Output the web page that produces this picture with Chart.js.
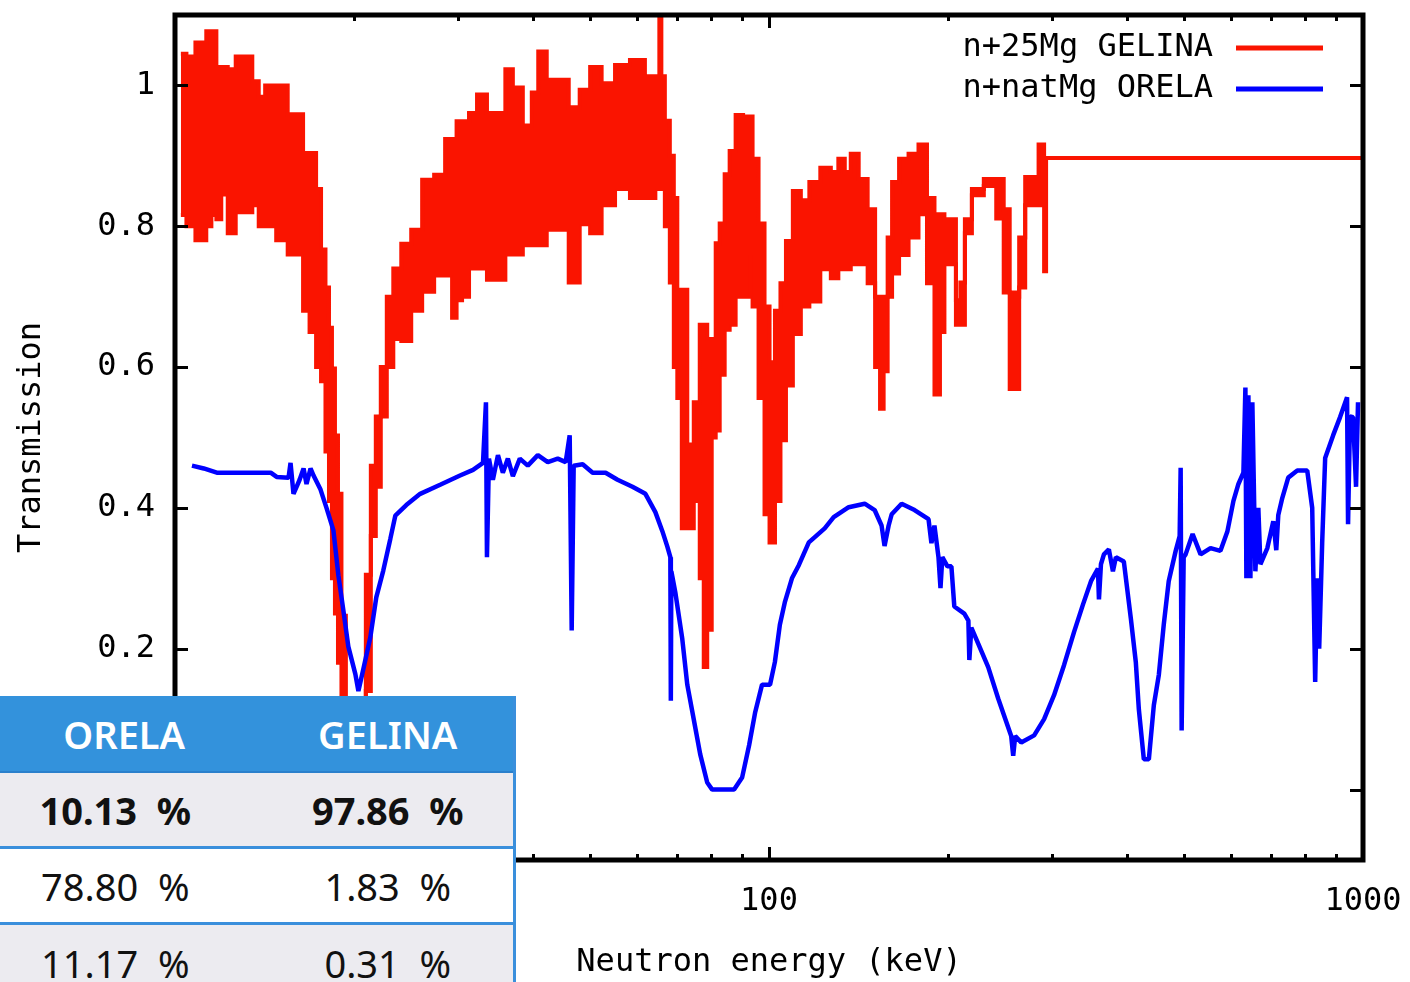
<!DOCTYPE html>
<html>
<head>
<meta charset="utf-8">
<title>Mg transmission</title>
<script src="https://cdn.jsdelivr.net/npm/chart.js@4.4.1/dist/chart.umd.min.js"></script>
<style>
    html, body { margin: 0; padding: 0; background: #fff; overflow: hidden; }
    #wrap { position: relative; width: 1410px; height: 982px; }
    #chart { position: absolute; left: 0; top: 0; }
    #shares {
        position: absolute; left: 0; top: 696px; width: 516px;
        box-sizing: border-box; border-right: 3px solid #3a8fdc;
        font-family: "Noto Sans", "Open Sans", sans-serif; color: #111;
    }
    #shares .tr { display: flex; align-items: center; box-sizing: border-box; height: 76px; white-space: pre; font-size: 38px; background: #fff; }
    #shares .th { height: 77px; background: #3392dc; color: #fff; border-bottom: 2px solid #2b80cc; font-weight: 600; }
    #shares .th .c1 { width: 250px; }
    #shares .th .c2 { margin-left: 14px; }
    #shares .odd { background: #ecebf0; }
    #shares .line { border-bottom: 3px solid #3a8fdc; }
    #shares .bold { font-weight: 700; }
    #shares .c1 { width: 232px; text-align: center; }
    #shares .c2 { width: 252px; margin-left: 32px; text-align: center; }
</style>
</head>
<body>
<div id="wrap">
    <canvas id="chart" width="1410" height="982"></canvas>
    <div id="shares"></div>
</div>
<script>
// axis ticks
const xTicks = [10, 20, 30, 40, 50, 60, 70, 80, 90, 100, 200, 300, 400, 500, 600, 700, 800, 900, 1000];
const xLabels = [10, 100, 1000];
const yTicks = [0, 0.2, 0.4, 0.6, 0.8, 1];

// n+25Mg GELINA : upper and lower edge of the dense trace
const gelinaE = [10.23, 10.68, 10.97, 11.18, 11.40, 11.63, 11.85, 12.08, 12.46, 12.85, 13.31, 13.68, 13.99, 14.38, 15.24, 15.72, 16.27, 16.59, 17.11, 17.45,
    17.78, 18.06, 18.27, 18.48, 18.70, 18.92, 19.21, 19.58, 20.12, 20.75, 21.16, 21.57, 21.99, 22.42, 23.04, 23.58, 24.51, 25.47, 26.68, 27.95,
    29.05, 29.50, 30.08, 30.78, 31.75, 32.75, 34.29, 35.64, 36.34, 37.77, 39.26, 40.49, 41.28, 43.24, 44.95, 47.09, 48.94, 51.07, 53.49, 56.67,
    60.05, 63.63, 65.12, 65.63, 66.14, 67.43, 68.74, 69.55, 70.63, 72.01, 73.70, 75.72, 77.20, 78.10, 79.32, 80.86, 81.81, 83.40, 85.03, 86.69,
    89.06, 91.86, 92.93, 94.74, 97.34, 99.23, 101.2, 103.5, 105.6, 108.0, 111.4, 114.9, 119.0, 125.1, 129.1, 132.6, 135.7, 138.9, 144.3, 148.9,
    152.9, 154.7, 157.2, 159.6, 162.7, 168.5, 175.1, 182.0, 187.0, 192.9, 195.1, 199.7, 204.4, 208.4, 211.6, 215.8, 223.4, 236.7, 246.0, 250.8,
    257.7, 261.7, 265.8, 274.2, 282.7, 286.0, 289.4, 291.6, 293.9, 1000];
const gelinaHi = [1.045, 1.041, 1.061, 1.061, 1.077, 1.077, 1.026, 1.026, 1.023, 1.041, 1.041, 1.006, 0.984, 1.0, 1.0, 0.959, 0.959, 0.904, 0.904, 0.853,
    0.767, 0.713, 0.656, 0.598, 0.503, 0.42, 0.247, 0.12, 0.05, 0.10, 0.305, 0.46, 0.53, 0.60, 0.70, 0.74, 0.775, 0.795, 0.866, 0.873,
    0.924, 0.924, 0.949, 0.949, 0.961, 0.987, 0.961, 0.961, 1.023, 0.997, 0.943, 0.99, 1.048, 1.008, 1.008, 0.969, 0.994, 1.026, 1.003, 1.029,
    1.036, 1.013, 1.013, 1.10, 1.013, 0.95, 0.90, 0.84, 0.71, 0.71, 0.49, 0.55, 0.66, 0.66, 0.64, 0.64, 0.776, 0.804, 0.874, 0.907,
    0.958, 0.956, 0.956, 0.896, 0.804, 0.686, 0.607, 0.68, 0.719, 0.779, 0.85, 0.837, 0.863, 0.883, 0.877, 0.896, 0.877, 0.903, 0.867, 0.824,
    0.70, 0.68, 0.70, 0.784, 0.863, 0.896, 0.903, 0.916, 0.84, 0.817, 0.817, 0.81, 0.81, 0.695, 0.72, 0.81, 0.853, 0.867, 0.867, 0.824,
    0.706, 0.70, 0.784, 0.87, 0.87, 0.916, 0.916, 0.897, 0.897, 0.897];
const gelinaLo = [0.816, 0.80, 0.78, 0.78, 0.80, 0.816, 0.81, 0.845, 0.79, 0.82, 0.82, 0.83, 0.80, 0.80, 0.78, 0.76, 0.76, 0.68, 0.65, 0.60,
    0.58, 0.48, 0.41, 0.30, 0.25, 0.18, 0.10, 0.03, 0.0, 0.03, 0.14, 0.36, 0.43, 0.53, 0.60, 0.64, 0.637, 0.68, 0.707, 0.73,
    0.73, 0.67, 0.695, 0.70, 0.74, 0.74, 0.724, 0.724, 0.76, 0.76, 0.773, 0.773, 0.773, 0.795, 0.795, 0.72, 0.803, 0.79, 0.83, 0.853,
    0.84, 0.84, 0.853, 0.853, 0.853, 0.80, 0.72, 0.60, 0.556, 0.371, 0.371, 0.41, 0.30, 0.174, 0.227, 0.50, 0.51, 0.589, 0.653, 0.66,
    0.70, 0.70, 0.759, 0.686, 0.556, 0.391, 0.351, 0.41, 0.496, 0.574, 0.647, 0.686, 0.693, 0.739, 0.726, 0.739, 0.739, 0.746, 0.746, 0.719,
    0.60, 0.541, 0.594, 0.70, 0.733, 0.759, 0.784, 0.817, 0.719, 0.561, 0.65, 0.746, 0.746, 0.66, 0.66, 0.79, 0.844, 0.857, 0.811, 0.706,
    0.569, 0.569, 0.713, 0.83, 0.83, 0.83, 0.83, 0.736, 0.897, 0.897];

// n+natMg ORELA
const orelaE = [10.68, 11.18, 11.76, 14.49, 14.83, 15.53, 15.65, 15.83, 16.02, 16.21, 16.46, 16.65, 16.91, 17.11, 17.58, 17.99, 18.48, 18.84, 19.21, 19.58,
    20.12, 20.36, 20.75, 21.32, 21.82, 22.42, 23.04, 23.49, 24.51, 25.87, 27.95, 30.19, 31.75, 33.00, 33.38, 33.51, 33.77, 34.29, 34.97, 35.64,
    36.34, 37.05, 38.06, 39.26, 40.81, 42.42, 44.09, 45.47, 46.18, 46.54, 46.90, 48.56, 50.48, 53.08, 55.59, 58.90, 61.93, 64.37, 66.14, 67.43,
    68.22, 68.35, 68.48, 69.55, 71.45, 72.85, 74.84, 76.60, 78.70, 80.23, 87.35, 90.10, 92.58, 94.74, 97.34, 100.4, 102.3, 104.3, 106.4, 109.3,
    112.3, 116.7, 124.1, 128.5, 136.2, 144.9, 150.6, 154.7, 156.5, 159.0, 160.9, 167.2, 175.8, 185.6, 187.7, 189.9, 192.9, 194.4, 195.8, 199.7,
    202.8, 205.1, 213.2, 216.6, 217.4, 219.1, 225.1, 233.9, 243.2, 255.7, 257.7, 259.7, 265.8, 279.5, 290.5, 301.9, 313.9, 326.3, 337.8, 348.4,
    357.9, 359.3, 362.1, 366.3, 373.4, 379.3, 383.7, 395.7, 406.6, 414.5, 419.4, 427.6, 436.0, 444.5, 453.2, 461.9, 470.9, 483.8, 491.3, 493.2,
    495.1, 499.0, 502.8, 516.6, 532.8, 553.7, 575.5, 591.3, 605.2, 617.0, 629.0, 633.9, 636.3, 641.3, 646.3, 651.2, 658.9, 666.5, 671.8, 690.2,
    706.3, 714.5, 720.1, 731.3, 748.4, 775.2, 805.6, 821.3, 830.8, 837.3, 843.8, 853.6, 863.6, 890.6, 915.0, 940.1, 943.7, 951.0, 962.1, 973.4,
    980.9];
const orelaT = [0.46, 0.456, 0.45, 0.45, 0.444, 0.443, 0.464, 0.42, 0.43, 0.44, 0.456, 0.434, 0.456, 0.446, 0.426, 0.40, 0.368, 0.304, 0.254, 0.203,
    0.164, 0.14, 0.171, 0.216, 0.273, 0.311, 0.356, 0.389, 0.404, 0.42, 0.433, 0.446, 0.454, 0.464, 0.55, 0.33, 0.47, 0.44, 0.475, 0.45,
    0.47, 0.445, 0.47, 0.46, 0.475, 0.465, 0.47, 0.465, 0.503, 0.226, 0.46, 0.462, 0.45, 0.45, 0.44, 0.43, 0.42, 0.394, 0.367, 0.345,
    0.33, 0.126, 0.31, 0.28, 0.214, 0.149, 0.096, 0.05, 0.01, 0.0, 0.0, 0.017, 0.063, 0.109, 0.149, 0.149, 0.181, 0.234, 0.267, 0.30,
    0.319, 0.351, 0.371, 0.387, 0.401, 0.406, 0.397, 0.375, 0.346, 0.375, 0.391, 0.406, 0.397, 0.384, 0.35, 0.375, 0.33, 0.286, 0.33, 0.317,
    0.317, 0.26, 0.25, 0.24, 0.184, 0.23, 0.207, 0.174, 0.129, 0.076, 0.048, 0.076, 0.067, 0.077, 0.10, 0.134, 0.177, 0.224, 0.263, 0.296,
    0.314, 0.27, 0.32, 0.334, 0.341, 0.31, 0.33, 0.324, 0.243, 0.181, 0.114, 0.043, 0.043, 0.12, 0.163, 0.234, 0.296, 0.339, 0.36, 0.457,
    0.084, 0.33, 0.334, 0.363, 0.334, 0.343, 0.339, 0.367, 0.41, 0.434, 0.45, 0.571, 0.30, 0.56, 0.30, 0.55, 0.31, 0.40, 0.32, 0.343,
    0.381, 0.34, 0.39, 0.414, 0.443, 0.453, 0.453, 0.40, 0.153, 0.30, 0.20, 0.35, 0.471, 0.503, 0.529, 0.557, 0.377, 0.53, 0.529, 0.43,
    0.55];

// share table
const tableHead = ['ORELA', 'GELINA'];
const tableOrela = ['10.13', '78.80', '11.17'];
const tableGelina = ['97.86', '1.83', '0.31'];

const RED = '#fa1400';
const BLUE = '#0000ff';
const axisFont = { family: 'DejaVu Sans Mono', size: 32 };

function pts(xs, ys) {
    return xs.map((x, i) => ({ x: x, y: ys[i] }));
}

function buildTable() {
    const box = document.getElementById('shares');
    let html = `<div class="tr th"><span class="c1">${tableHead[0]}</span><span class="c2">${tableHead[1]}</span></div>`;
    tableOrela.forEach((v, i) => {
        const cls = ['tr', i % 2 === 0 ? 'odd' : '', i < tableOrela.length - 1 ? 'line' : '', i === 0 ? 'bold' : ''].join(' ');
        html += `<div class="${cls}"><span class="c1">${v}  %</span><span class="c2">${tableGelina[i]}  %</span></div>`;
    });
    box.innerHTML = html;
}

// gnuplot style frame with inward ticks on all four sides
const framePlugin = {
    id: 'frame',
    afterDatasetsDraw(chart) {
        const { ctx, chartArea: a, scales: { x, y } } = chart;
        ctx.save();
        ctx.strokeStyle = '#000';
        ctx.lineWidth = 3;
        ctx.beginPath();
        x.ticks.forEach(t => {
            const px = Math.round(x.getPixelForValue(t.value)) + 0.5;
            const len = xLabels.includes(t.value) ? 13 : 6;
            ctx.moveTo(px, a.bottom); ctx.lineTo(px, a.bottom - len);
            ctx.moveTo(px, a.top); ctx.lineTo(px, a.top + len);
        });
        y.ticks.forEach(t => {
            const py = Math.round(y.getPixelForValue(t.value)) + 0.5;
            ctx.moveTo(a.left, py); ctx.lineTo(a.left + 13, py);
            ctx.moveTo(a.right, py); ctx.lineTo(a.right - 13, py);
        });
        ctx.stroke();
        ctx.lineWidth = 5;
        ctx.strokeRect(a.left, a.top, a.right - a.left, a.bottom - a.top);
        ctx.restore();
    }
};

// key in the top right corner: text first, line sample after it
const keyPlugin = {
    id: 'key',
    afterDraw(chart) {
        const { ctx, chartArea: a } = chart;
        const items = chart.data.datasets.filter(d => d.inKey).sort((p, q) => p.keyRow - q.keyRow);
        ctx.save();
        ctx.font = `${axisFont.size}px "${axisFont.family}"`;
        ctx.textAlign = 'right';
        ctx.textBaseline = 'middle';
        ctx.lineWidth = 5;
        items.forEach((d, i) => {
            const ty = a.top + 33 + i * 41;
            ctx.fillStyle = '#000';
            ctx.fillText(d.label, a.right - 150, ty);
            ctx.strokeStyle = d.borderColor;
            ctx.beginPath();
            ctx.moveTo(a.right - 127, ty);
            ctx.lineTo(a.right - 40, ty);
            ctx.stroke();
        });
        ctx.restore();
    }
};

function drawChart() {
    const ctx = document.getElementById('chart').getContext('2d');
    new Chart(ctx, {
        type: 'line',
        data: {
            datasets: [
                {
                    label: 'n+natMg ORELA', data: pts(orelaE, orelaT),
                    borderColor: BLUE, borderWidth: 4.5, pointRadius: 0, fill: false,
                    borderJoinStyle: 'bevel', order: 0, inKey: true, keyRow: 1
                },
                {
                    label: 'n+25Mg GELINA', data: pts(gelinaE, gelinaHi),
                    borderColor: RED, backgroundColor: RED, borderWidth: 4, pointRadius: 0, fill: '+1',
                    stepped: 'middle', order: 1, inKey: true, keyRow: 0
                },
                {
                    label: 'n+25Mg GELINA low', data: pts(gelinaE, gelinaLo),
                    borderColor: RED, borderWidth: 4, pointRadius: 0, fill: false,
                    stepped: 'middle', order: 2
                }
            ]
        },
        options: {
            responsive: false,
            animation: false,
            devicePixelRatio: 1,
            layout: { padding: { top: 15, right: 47, left: 0, bottom: 0 } },
            plugins: { legend: { display: false }, tooltip: { enabled: false } },
            scales: {
                x: {
                    type: 'logarithmic', min: 10, max: 1000,
                    afterBuildTicks: s => { s.ticks = xTicks.map(v => ({ value: v })); },
                    afterFit: s => { s.height = 122; s.paddingLeft = 0; s.paddingRight = 0; },
                    ticks: {
                        autoSkip: false, maxRotation: 0, padding: 22, font: axisFont, color: '#000',
                        callback: v => xLabels.includes(v) ? String(v) : ''
                    },
                    grid: { display: false, drawTicks: false },
                    border: { display: false },
                    title: { display: true, text: 'Neutron energy (keV)', font: axisFont, color: '#000', padding: 0 }
                },
                y: {
                    min: -0.1, max: 1.1,
                    afterBuildTicks: s => { s.ticks = yTicks.map(v => ({ value: v })); },
                    afterFit: s => { s.width = 175; s.paddingTop = 0; s.paddingBottom = 0; },
                    ticks: { padding: 20, font: axisFont, color: '#000', callback: v => String(v) },
                    grid: { display: false, drawTicks: false },
                    border: { display: false },
                    title: { display: true, text: 'Transmission', font: axisFont, color: '#000', padding: { top: 12, bottom: 0 } }
                }
            }
        },
        plugins: [framePlugin, keyPlugin]
    });
}

buildTable();
drawChart();
</script>
</body>
</html>
